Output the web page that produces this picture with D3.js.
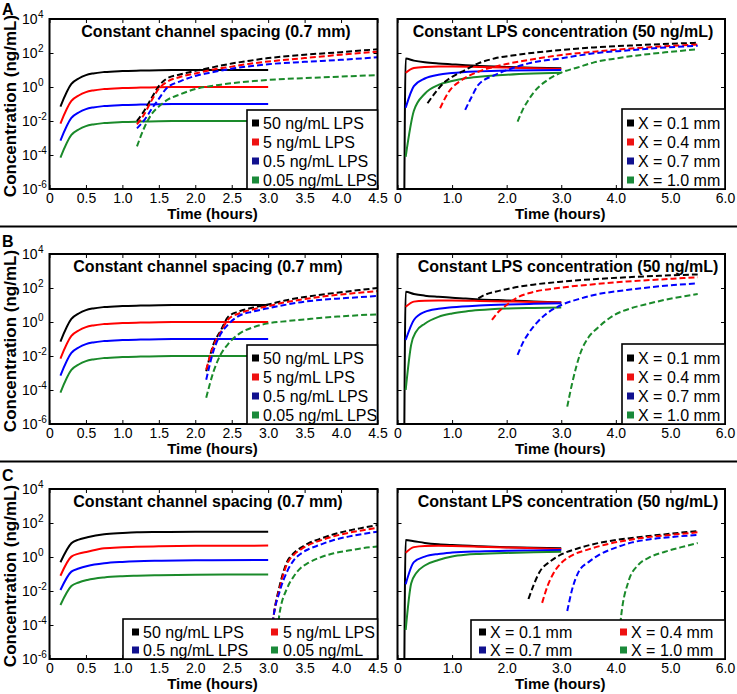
<!DOCTYPE html>
<html><head><meta charset="utf-8">
<script src="https://cdn.jsdelivr.net/npm/d3@7"></script>
<style>body{margin:0;background:#fff}svg{display:block}text{font-family:"Liberation Sans",Arial,sans-serif;fill:#000}</style>
</head><body><svg id="c" width="737" height="694"></svg>
<script>
// ---------------- DATA ----------------
const leftXTicks = [0,0.5,1.0,1.5,2.0,2.5,3.0,3.5,4.0,4.5];
const leftXLabels = ["0","0.5","1.0","1.5","2.0","2.5","3.0","3.5","4.0","4.5"];
const rightXTicks = [0,1,2,3,4,5,6];
const rightXLabels = ["0","1.0","2.0","3.0","4.0","5.0","6.0"];
const yTickExps = ["-6","-4","-2","0","2","4"];
const yTickValues = [1e-6,1e-4,1e-2,1e0,1e2,1e4];
const concLabels = ["50 ng/mL LPS","5 ng/mL LPS","0.5 ng/mL LPS","0.05 ng/mL LPS"];
const concLabelsC = ["50 ng/mL LPS","5 ng/mL LPS","0.5 ng/mL LPS","0.05 ng/mL"];
const distLabels = ["X = 0.1 mm","X = 0.4 mm","X = 0.7 mm","X = 1.0 mm"];
const panelLetters = ["A","B","C"];
const titleLeft = "Constant channel spacing (0.7 mm)";
const titleRight = "Constant LPS concentration (50 ng/mL)";

// Panel A, left (constant channel spacing)
const tA_L_solid = [0.15,0.3,0.4,0.5,0.6,0.75,1.0,1.25,1.5,2.0,3.0];
const A_L_solid_50 = [0.071,1.51,3.16,5.0,6.3,7.6,8.7,9.3,9.8,10,10];
const A_L_solid_5 = [0.0071,0.151,0.316,0.50,0.63,0.76,0.87,0.93,0.98,1.0,1.0];
const A_L_solid_05 = [7.1e-4,0.0151,0.0316,0.050,0.063,0.076,0.087,0.093,0.098,0.10,0.10];
const A_L_solid_005 = [7.1e-5,1.51e-3,3.16e-3,5.0e-3,6.3e-3,7.6e-3,8.7e-3,9.3e-3,9.8e-3,0.010,0.010];
const tA_L_dash = [1.2,1.3,1.4,1.5,1.6,1.8,2.0,2.25,2.5,2.75,3.0,3.5,4.0,4.5];
const A_L_dash_50 = [0.010,0.040,0.224,1.12,2.95,5.62,8.91,14.8,24.0,35.5,50.1,79.4,112,166];
const A_L_dash_5 = [6.3e-3,0.025,0.158,0.79,1.86,3.98,6.31,10.7,15.8,23.4,31.6,50.1,79.4,120];
const A_L_dash_05 = [3.7e-3,0.0112,0.050,0.20,0.79,2.24,4.47,7.59,12.0,16.6,21.9,30.2,39.8,56.2];
const A_L_dash_005 = [3.2e-4,4.0e-3,0.025,0.071,0.158,0.38,0.76,1.20,1.66,2.14,2.63,3.31,4.07,5.01];

// Panel A, right (constant LPS concentration)
const tA_R_solid_01 = [0.12,0.15,0.3,0.5,0.75,1.0,1.25,1.5,2.0,2.5,3.0];
const A_R_solid_01 = [1e-9,46.8,35.5,28.2,24.0,21.4,19.1,17.4,15.1,13.5,12.6];
const tA_R_solid = [0.15,0.3,0.5,0.75,1.0,1.5,2.0,2.5,3.0];
const A_R_solid_04 = [6.9,13.2,15.1,15.8,15.8,15.1,13.8,12.6,11.5];
const A_R_solid_07 = [0.060,1.12,3.16,5.25,6.6,8.3,9.3,9.8,10];
const tA_R_solid_10 = [0.15,0.3,0.5,0.75,1.0,1.25,1.5,2.0,2.5,3.0];
const A_R_solid_10 = [7.9e-5,0.040,0.40,1.32,2.24,3.24,4.0,5.25,6.2,6.9];
const tA_R_dash_01 = [0.55,0.7,0.87,1.0,1.18,1.48,1.79,2.1,2.4,3.0,3.6,4.2,4.8,5.5];
const A_R_dash_01 = [0.11,0.50,2.04,3.98,7.94,24.5,49.0,70.8,95.5,151,214,269,331,398];
const tA_R_dash_04 = [0.78,0.94,1.18,1.48,1.79,2.4,3.0,3.6,4.2,4.8,5.5];
const A_R_dash_04 = [0.056,0.525,2.57,7.94,15.8,38.9,75.9,120,174,240,316];
const tA_R_dash_07 = [1.24,1.36,1.48,1.79,2.1,2.4,3.0,3.6,4.2,4.8,5.5];
const A_R_dash_07 = [0.045,0.27,1.32,5.13,12.6,24.5,49.0,95.5,141,200,269];
const tA_R_dash_10 = [2.2,2.3,2.4,2.5,2.7,3.0,3.3,3.6,4.0,4.5,5.0,5.5];
const A_R_dash_10 = [9.1e-3,0.05,0.174,0.50,2.0,7.08,14.1,28.2,47.9,79.4,117,166];

// Panel B, left
const tB_L_solid = [0.15,0.3,0.4,0.5,0.6,0.75,1.0,1.25,1.5,2.0,3.0];
const B_L_solid_50 = [0.071,1.51,3.16,5.0,6.3,7.6,8.7,9.3,9.8,10,10];
const B_L_solid_5 = [0.0071,0.151,0.316,0.50,0.63,0.76,0.87,0.93,0.98,1.0,1.0];
const B_L_solid_05 = [7.1e-4,0.0151,0.0316,0.050,0.063,0.076,0.087,0.093,0.098,0.10,0.10];
const B_L_solid_005 = [7.1e-5,1.51e-3,3.16e-3,5.0e-3,6.3e-3,7.6e-3,8.7e-3,9.3e-3,9.8e-3,0.010,0.010];
const tB_L_dash = [2.15,2.25,2.35,2.45,2.6,2.8,3.0,3.25,3.5,3.75,4.0,4.25,4.5];
const B_L_dash_50 = [1.26e-3,0.050,0.316,2.0,4.17,7.08,10.7,19.1,29.5,41.7,56.2,75.9,100];
const B_L_dash_5 = [1.58e-3,0.040,0.25,1.41,3.16,5.62,8.51,14.8,22.4,31.6,41.7,52.5,66.1];
const B_L_dash_05 = [3.98e-4,0.020,0.20,0.71,2.29,4.17,6.46,10.5,15.8,20.4,24.5,28.8,33.9];
const B_L_dash_005 = [3.5e-5,1.2e-3,0.0126,0.050,0.20,0.50,0.83,1.12,1.41,1.78,2.14,2.51,2.82];

// Panel B, right
const tB_R_solid_01 = [0.12,0.15,0.3,0.5,0.75,1.0,1.25,1.5,2.0,2.5,3.0];
const B_R_solid_01 = [1e-9,60.3,44.7,35.5,30.2,26.3,24.0,21.4,18.6,16.2,14.1];
const tB_R_solid = [0.15,0.3,0.5,0.75,1.0,1.5,2.0,2.5,3.0];
const B_R_solid_04 = [7.94,15.8,17.8,18.2,18.2,17.4,16.2,15.1,14.1];
const B_R_solid_07 = [0.087,1.32,3.98,6.03,7.41,9.33,10.7,11.7,12.6];
const tB_R_solid_10 = [0.15,0.25,0.34,0.5,0.75,1.0,1.25,1.5,2.0,2.5,3.0];
const B_R_solid_10 = [1.0e-4,0.045,0.27,0.79,2.0,3.16,4.17,5.01,6.17,6.76,7.24];
const tB_R_dash_01 = [1.48,1.6,1.79,2.1,2.4,3.0,3.6,4.2,4.8,5.5];
const B_R_dash_01 = [24.5,39.8,60.3,100,145,234,331,427,525,631];
const tB_R_dash_04 = [1.73,1.85,2.0,2.2,2.4,3.0,3.6,4.2,4.8,5.5];
const B_R_dash_04 = [1.32,3.98,10,28.2,49.0,105,166,240,316,427];
const tB_R_dash_07 = [2.2,2.3,2.4,2.55,2.7,3.0,3.3,3.6,4.2,4.8,5.5];
const B_R_dash_07 = [0.0115,0.063,0.214,0.89,2.57,10,21.4,38.9,75.9,126,186];
const tB_R_dash_10 = [3.11,3.2,3.35,3.5,3.66,3.97,4.27,4.6,4.88,5.5];
const B_R_dash_10 = [1.05e-5,2.5e-4,0.0145,0.126,0.427,2.57,6.31,12.0,19.5,44.7];

// Panel C, left
const tC_L_solid = [0.15,0.3,0.4,0.52,0.75,1.0,1.2,1.5,2.0,3.0];
const C_L_solid_50 = [0.49,6.46,10.5,14.5,21.9,25.7,28.2,29.5,30.9,30.9];
const C_L_solid_5 = [0.079,1.05,1.58,2.04,3.24,3.72,3.98,4.27,4.57,4.68];
const C_L_solid_05 = [0.0115,0.138,0.209,0.295,0.427,0.513,0.562,0.603,0.646,0.661];
const C_L_solid_005 = [1.51e-3,0.0195,0.0316,0.0447,0.063,0.074,0.079,0.085,0.091,0.095];
const tC_L_dash = [3.02,3.07,3.16,3.26,3.35,3.45,3.55,3.7,3.9,4.1,4.3,4.5];
const C_L_dash_50 = [3.2e-6,2.5e-4,0.0224,0.525,1.66,3.55,6.31,11.2,21.9,35.5,52.5,75.9];
const C_L_dash_5 = [3.2e-6,2.5e-4,0.0158,0.40,1.32,2.82,5.01,8.91,16.6,26.3,38.0,52.5];
const C_L_dash_05 = [3.2e-6,2.5e-4,0.010,0.141,0.63,1.58,2.82,5.01,10,15.8,22.9,30.9];
const C_L_dash_005 = [1e-8,3.2e-7,6.0e-4,0.0145,0.071,0.234,0.447,0.891,1.66,2.40,3.31,4.17];

// Panel C, right
const tC_R_solid_01 = [0.12,0.15,0.3,0.5,0.75,1.0,1.5,2.0,2.5,3.0];
const C_R_solid_01 = [1e-9,10,8.51,6.76,5.62,5.01,4.27,3.8,3.47,3.24];
const tC_R_solid = [0.15,0.3,0.5,0.75,1.0,1.5,2.0,2.5,3.0];
const C_R_solid_04 = [1.78,3.8,4.47,4.57,4.47,4.07,3.63,3.31,2.95];
const C_R_solid_07 = [0.025,0.50,1.05,1.51,1.82,2.14,2.34,2.45,2.57];
const tC_R_solid_10 = [0.15,0.25,0.34,0.5,0.75,1.0,1.25,1.5,2.0,2.5,3.0];
const C_R_solid_10 = [5.1e-5,0.028,0.11,0.316,0.66,1.07,1.35,1.51,1.74,1.91,2.04];
const tC_R_dash_01 = [2.4,2.5,2.6,2.8,3.0,3.3,3.65,4.0,4.5,5.0,5.5];
const C_R_dash_01 = [3.4e-3,0.025,0.126,0.562,1.41,3.16,6.31,10,15.8,23.4,33.9];
const tC_R_dash_04 = [2.65,2.75,2.85,3.0,3.2,3.5,3.8,4.2,4.6,5.0,5.5];
const C_R_dash_04 = [2.0e-3,0.020,0.10,0.447,1.26,2.82,5.25,9.55,14.8,20,28.2];
const tC_R_dash_07 = [3.11,3.2,3.32,3.5,3.7,4.0,4.3,4.6,5.0,5.5];
const C_R_dash_07 = [6.6e-4,0.0126,0.138,0.50,1.38,3.55,7.24,10.7,14.8,20];
const tC_R_dash_10 = [4.05,4.1,4.23,4.41,4.6,4.9,5.2,5.5];
const C_R_dash_10 = [1e-5,4.0e-4,0.0355,0.339,0.89,2.04,3.8,6.61];

// ---------------- STYLE ----------------
const lineColors = ["#000000","#ff0000","#0000ff","#1a8a2a"];
const swatchColors = ["#000000","#ee1111","#11118f","#1a8a3a"];

const svg = d3.select("#c");
const W = 737, H = 170;
const tops = [19, 254, 489];
const letterY = [15, 247, 481];

function zip(t, v){ return t.map((d,i)=>[d, v[i]]); }

function drawPlot(top, side, solids, dashes, title, titleCX, legendSpec){
  const xr = side === "L" ? [49.5, 377.5] : [397.5, 725];
  const x = d3.scaleLinear().domain(side === "L" ? [0,4.5] : [0,6]).range(xr);
  const y = d3.scaleLog().domain([1e-6, 1e4]).range([top + H, top]);
  const id = "clip" + top + side;
  svg.append("clipPath").attr("id", id).append("rect")
    .attr("x", xr[0]).attr("y", top).attr("width", xr[1]-xr[0]).attr("height", H);
  const g = svg.append("g");
  const lg = g.append("g").attr("clip-path", `url(#${id})`);
  const line = d3.line().x(d=>x(d[0])).y(d=>y(d[1])).curve(d3.curveMonotoneX);
  solids.forEach((s,i)=>{
    lg.append("path").attr("d", line(s)).attr("fill","none")
      .attr("stroke", lineColors[i]).attr("stroke-width", 2);
  });
  dashes.forEach((s,i)=>{
    lg.append("path").attr("d", line(s)).attr("fill","none")
      .attr("stroke", lineColors[i]).attr("stroke-width", 2)
      .attr("stroke-dasharray","6,3");
  });
  // axes (inward ticks)
  const xt = side === "L" ? leftXTicks : rightXTicks;
  const xl = side === "L" ? leftXLabels : rightXLabels;
  const ax = g.append("g").attr("transform", `translate(0,${top+H})`)
    .call(d3.axisBottom(x).tickValues(xt).tickSizeInner(-4).tickSizeOuter(0).tickPadding(4)
      .tickFormat((d,i)=>xl[i]));
  ax.select(".domain").remove();
  ax.selectAll("text").attr("font-size", 14).attr("font-family", "Liberation Sans, Arial, sans-serif");
  const at = g.append("g").attr("transform", `translate(0,${top})`)
    .call(d3.axisTop(x).tickValues(xt).tickSizeInner(-4).tickSizeOuter(0).tickFormat(""));
  at.select(".domain").remove();
  const ayl = g.append("g").attr("transform", `translate(${xr[0]},0)`)
    .call(d3.axisLeft(y).tickValues(yTickValues).tickSizeInner(-4).tickSizeOuter(0).tickFormat(""));
  ayl.select(".domain").remove();
  const ayr = g.append("g").attr("transform", `translate(${xr[1]},0)`)
    .call(d3.axisRight(y).tickValues(yTickValues).tickSizeInner(-4).tickSizeOuter(0).tickFormat(""));
  ayr.select(".domain").remove();
  g.selectAll(".tick line").attr("stroke","#000").attr("stroke-width",1);
  if (side === "L"){
    yTickValues.forEach((v,i)=>{
      const yy = y(v);
      g.append("text").attr("x", 37.5).attr("y", yy + 5).attr("text-anchor","end")
        .attr("font-size", 14).text("10");
      g.append("text").attr("x", 38).attr("y", yy - 1).attr("font-size", 10).text(yTickExps[i]);
    });
    g.append("text").attr("transform", `translate(15.5,${top+87}) rotate(-90)`)
      .attr("text-anchor","middle").attr("font-size", 17).attr("font-weight","bold")
      .text("Concentration (ng/mL)");
  }
  // frame
  g.append("rect").attr("x", xr[0]).attr("y", top).attr("width", xr[1]-xr[0]).attr("height", H)
    .attr("fill","none").attr("stroke","#000").attr("stroke-width", 2);
  // title
  g.append("text").attr("x", titleCX).attr("y", top + 18).attr("text-anchor","middle")
    .attr("font-size", 16).attr("font-weight","bold").text(title);
  // x-axis label
  g.append("text").attr("x", (xr[0]+xr[1])/2 - 1).attr("y", top + H + 30).attr("text-anchor","middle")
    .attr("font-size", 15).attr("font-weight","bold").text("Time (hours)");
  // legend
  const L = legendSpec;
  const leg = g.append("g");
  leg.append("rect").attr("x", L.x).attr("y", top + L.dy).attr("width", L.w).attr("height", L.h)
    .attr("fill","#fff").attr("stroke","#000").attr("stroke-width", 1.6);
  L.labels.forEach((lab,i)=>{
    const col = L.cols === 2 ? i % 2 : 0;
    const row = L.cols === 2 ? Math.floor(i/2) : i;
    const cy = top + L.rowY[row];
    leg.append("rect").attr("x", L.sx[col]).attr("y", cy - 3.5).attr("width", 7).attr("height", 7)
      .attr("fill", swatchColors[i]);
    leg.append("text").attr("x", L.tx[col]).attr("y", cy + 6).attr("font-size", 16).text(lab);
  });
}

const panelsData = [
  {
    L: { s: [zip(tA_L_solid,A_L_solid_50), zip(tA_L_solid,A_L_solid_5), zip(tA_L_solid,A_L_solid_05), zip(tA_L_solid,A_L_solid_005)],
         d: [zip(tA_L_dash,A_L_dash_50), zip(tA_L_dash,A_L_dash_5), zip(tA_L_dash,A_L_dash_05), zip(tA_L_dash,A_L_dash_005)] },
    R: { s: [zip(tA_R_solid_01,A_R_solid_01), zip(tA_R_solid,A_R_solid_04), zip(tA_R_solid,A_R_solid_07), zip(tA_R_solid_10,A_R_solid_10)],
         d: [zip(tA_R_dash_01,A_R_dash_01), zip(tA_R_dash_04,A_R_dash_04), zip(tA_R_dash_07,A_R_dash_07), zip(tA_R_dash_10,A_R_dash_10)] },
    tl: 216, tr: 563
  },
  {
    L: { s: [zip(tB_L_solid,B_L_solid_50), zip(tB_L_solid,B_L_solid_5), zip(tB_L_solid,B_L_solid_05), zip(tB_L_solid,B_L_solid_005)],
         d: [zip(tB_L_dash,B_L_dash_50), zip(tB_L_dash,B_L_dash_5), zip(tB_L_dash,B_L_dash_05), zip(tB_L_dash,B_L_dash_005)] },
    R: { s: [zip(tB_R_solid_01,B_R_solid_01), zip(tB_R_solid,B_R_solid_04), zip(tB_R_solid,B_R_solid_07), zip(tB_R_solid_10,B_R_solid_10)],
         d: [zip(tB_R_dash_01,B_R_dash_01), zip(tB_R_dash_04,B_R_dash_04), zip(tB_R_dash_07,B_R_dash_07), zip(tB_R_dash_10,B_R_dash_10)] },
    tl: 208, tr: 568
  },
  {
    L: { s: [zip(tC_L_solid,C_L_solid_50), zip(tC_L_solid,C_L_solid_5), zip(tC_L_solid,C_L_solid_05), zip(tC_L_solid,C_L_solid_005)],
         d: [zip(tC_L_dash,C_L_dash_50), zip(tC_L_dash,C_L_dash_5), zip(tC_L_dash,C_L_dash_05), zip(tC_L_dash,C_L_dash_005)] },
    R: { s: [zip(tC_R_solid_01,C_R_solid_01), zip(tC_R_solid,C_R_solid_04), zip(tC_R_solid,C_R_solid_07), zip(tC_R_solid_10,C_R_solid_10)],
         d: [zip(tC_R_dash_01,C_R_dash_01), zip(tC_R_dash_04,C_R_dash_04), zip(tC_R_dash_07,C_R_dash_07), zip(tC_R_dash_10,C_R_dash_10)] },
    tl: 208, tr: 568
  }
];

panelsData.forEach((p, k)=>{
  const top = tops[k];
  let legL, legR;
  if (k < 2){
    legL = {x:247, dy:91, w:130.5, h:79, cols:1, rowY:[104,123,142,161], sx:[252], tx:[263], labels: concLabels};
    legR = {x:622, dy:90, w:103, h:80, cols:1, rowY:[104,123,142,161], sx:[627], tx:[638], labels: distLabels};
  } else {
    legL = {x:123, dy:130, w:254.5, h:40, cols:2, rowY:[143,161], sx:[132,271], tx:[143,283], labels: concLabelsC};
    legR = {x:471, dy:131, w:254, h:39, cols:2, rowY:[143,161], sx:[479,620], tx:[490,631], labels: distLabels};
  }
  drawPlot(top, "L", p.L.s, p.L.d, titleLeft, p.tl, legL);
  drawPlot(top, "R", p.R.s, p.R.d, titleRight, p.tr, legR);
  svg.append("text").attr("x", 2).attr("y", letterY[k]).attr("font-size", 16)
    .attr("font-weight","bold").text(panelLetters[k]);
});

// separators
[226.5, 461.5].forEach(yy=>{
  svg.append("line").attr("x1",0).attr("x2",W).attr("y1",yy).attr("y2",yy)
    .attr("stroke","#000").attr("stroke-width",2);
});
</script></body></html>
